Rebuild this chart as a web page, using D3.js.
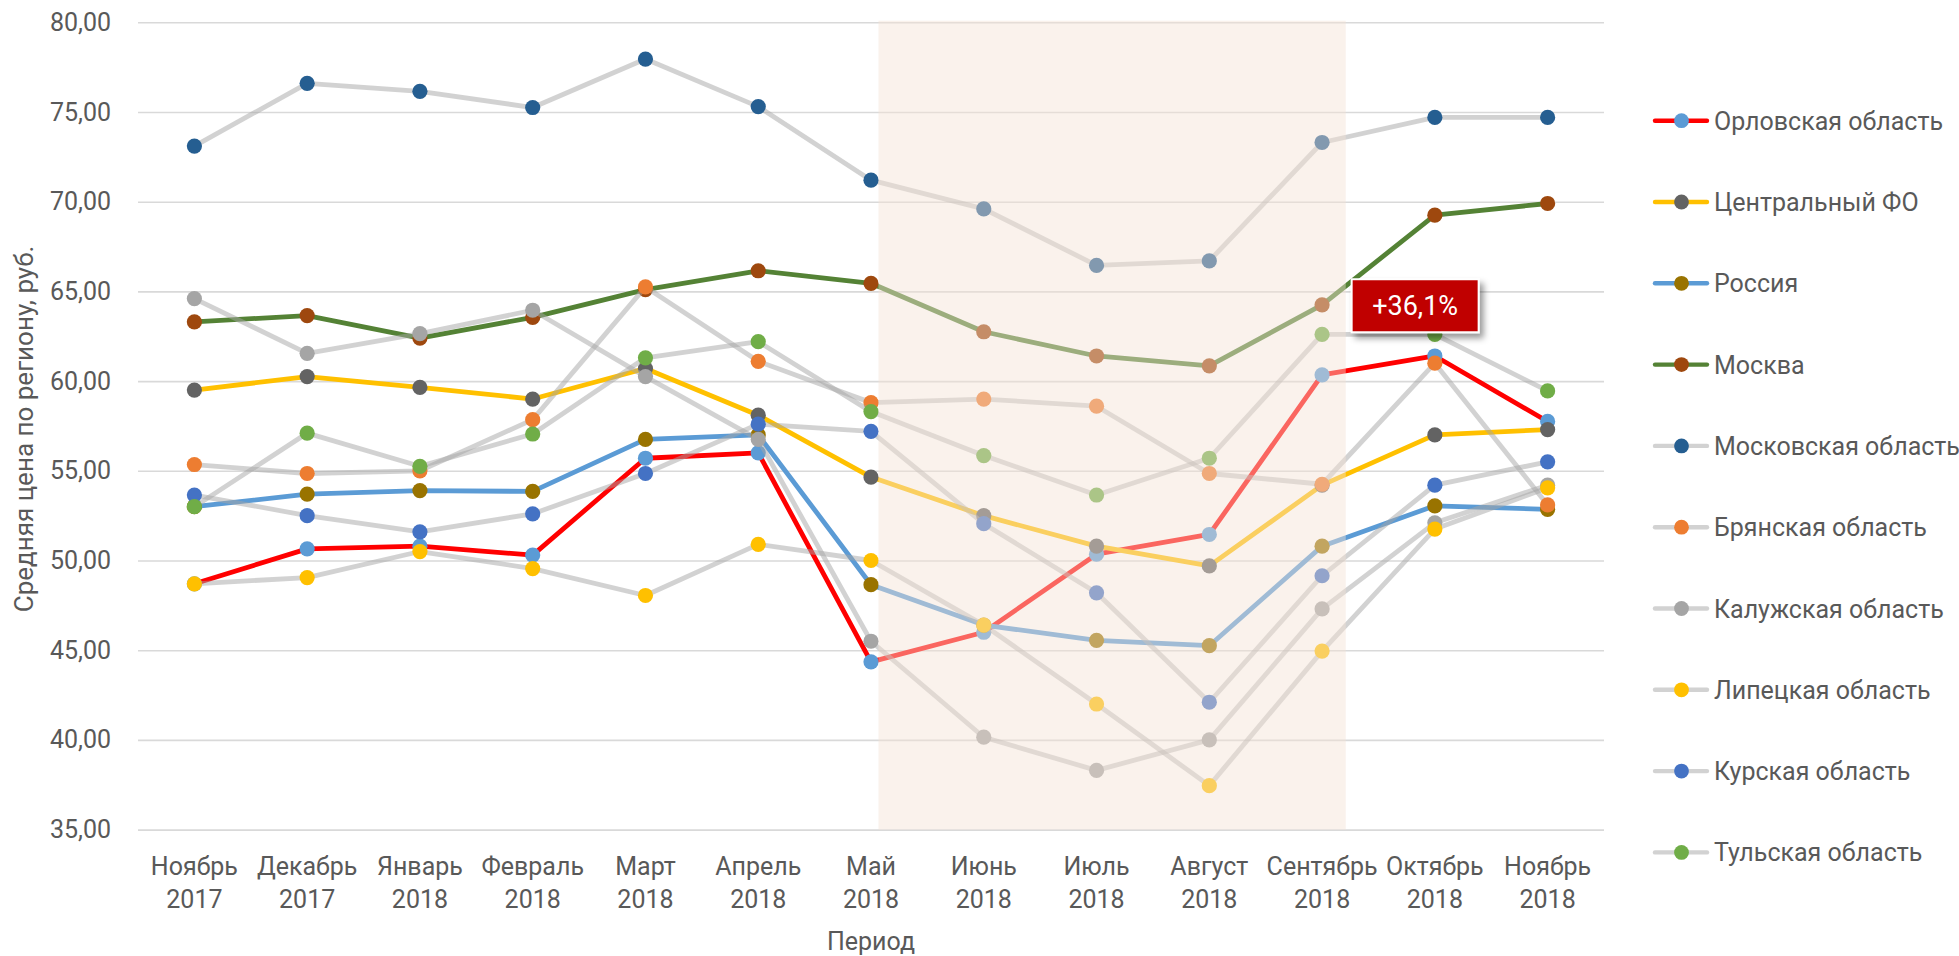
<!DOCTYPE html>
<html>
<head>
<meta charset="utf-8">
<script src="https://cdn.jsdelivr.net/npm/d3@7"></script>
<style>
  body { margin: 0; background: #fff; }
  svg { display: block; font-family: Roboto, "Open Sans", sans-serif; }
</style>
</head>
<body>
<div id="chart"></div>
<script>
const months = [
  "Ноябрь 2017", "Декабрь 2017", "Январь 2018", "Февраль 2018", "Март 2018",
  "Апрель 2018", "Май 2018", "Июнь 2018", "Июль 2018", "Август 2018",
  "Сентябрь 2018", "Октябрь 2018", "Ноябрь 2018"
]

const orel      = [48.70, 50.65, 50.80, 50.30, 55.70, 56.00, 44.35, 46.00, 50.35, 51.45, 60.35, 61.40, 57.75]
const cfo       = [59.50, 60.25, 59.65, 59.00, 60.70, 58.10, 54.65, 52.50, 50.80, 49.70, 54.20, 57.00, 57.30]
const russia    = [53.00, 53.70, 53.90, 53.85, 56.75, 57.00, 48.65, 46.40, 45.55, 45.25, 50.80, 53.05, 52.85]
const moscow    = [63.30, 63.65, 62.40, 63.55, 65.10, 66.15, 65.45, 62.75, 61.40, 60.85, 64.25, 69.25, 69.90]
const moscowObl = [73.10, 76.60, 76.15, 75.25, 77.95, 75.30, 71.20, 69.60, 66.45, 66.70, 73.30, 74.70, 74.70]
const bryansk   = [55.35, 54.85, 55.00, 57.85, 65.25, 61.10, 58.80, 59.00, 58.60, 54.85, 54.25, 61.00, 53.10]
const kaluga    = [64.60, 61.55, 62.65, 63.95, 60.25, 56.75, 45.50, 40.15, 38.30, 40.00, 47.30, 52.10, 54.20]
const lipetsk   = [48.70, 49.05, 50.50, 49.55, 48.05, 50.90, 50.00, 46.40, 42.00, 37.45, 44.95, 51.75, 54.05]
const kursk     = [53.65, 52.50, 51.60, 52.60, 54.85, 57.60, 57.20, 52.05, 48.20, 42.10, 49.15, 54.20, 55.50]
const tula      = [53.00, 57.10, 55.25, 57.05, 61.30, 62.20, 58.30, 55.85, 53.65, 55.70, 62.60, 62.60, 59.45]

const seriesNames = [
  "Орловская область", "Центральный ФО", "Россия", "Москва", "Московская область",
  "Брянская область", "Калужская область", "Липецкая область", "Курская область", "Тульская область"
]
const seriesValues = [orel, cfo, russia, moscow, moscowObl, bryansk, kaluga, lipetsk, kursk, tula]

const yTicks = [35, 40, 45, 50, 55, 60, 65, 70, 75, 80]

// highlighted period and the note on the Orel jump
const shadeFrom = "Май 2018"
const shadeTo = "Сентябрь 2018"
const noteText = "+36,1%"
const noteAt = "Октябрь 2018"
const noteValue = 64.2

// styles
const grey = "rgba(166,166,166,0.5)"
const lineColors = ["#FF0000", "#FFC000", "#5B9BD5", "#548235", grey, grey, grey, grey, grey, grey]
const legendLineColors = ["#FF0000", "#FFC000", "#5B9BD5", "#548235", "#D2D2D2", "#D2D2D2", "#D2D2D2", "#D2D2D2", "#D2D2D2", "#D2D2D2"]
const markerColors = ["#5B9BD5", "#636363", "#997300", "#9E480E", "#255E91", "#ED7D31", "#A5A5A5", "#FFC000", "#4472C4", "#70AD47"]
const textColor = "#595959"
const fontSize = 25

const W = 1959, H = 956
const plot = { left: 138, right: 1604, top: 22.3, bottom: 829.6 }

const svg = d3.select('#chart')
  .append('svg')
  .attr('width', W)
  .attr('height', H)

const defs = svg.append('defs')
const filter = defs.append('filter')
  .attr('id', 'shadow')
  .attr('x', '-20%').attr('y', '-30%')
  .attr('width', '150%').attr('height', '180%')
filter.append('feDropShadow')
  .attr('dx', 4).attr('dy', 5)
  .attr('stdDeviation', 3)
  .attr('flood-color', '#000')
  .attr('flood-opacity', 0.4)

const x = d3.scaleBand()
  .domain(months)
  .range([plot.left, plot.right])

const cx = m => x(m) + x.bandwidth() / 2

const y = d3.scaleLinear()
  .domain([35, 80])
  .range([plot.bottom, plot.top])

// Axes

const yAxis = d3.axisLeft(y)
  .tickValues(yTicks)
  .tickSize(-(plot.right - plot.left))
  .tickPadding(27)
  .tickFormat(d => d3.format('.2f')(d).replace('.', ','))

svg.append('g')
  .attr('transform', 'translate(' + plot.left + ',0)')
  .call(yAxis)
  .call(g => g.select('.domain').remove())
  .call(g => g.selectAll('line')
    .attr('stroke', '#D9D9D9')
    .attr('stroke-width', 1.6))
  .call(g => g.selectAll('text')
    .attr('fill', textColor)
    .style('font-size', fontSize + 'px')
    .style('font-family', 'Roboto'))

const xAxis = d3.axisBottom(x)
  .tickSize(0)
  .tickPadding(0)

svg.append('g')
  .attr('transform', 'translate(0,' + plot.bottom + ')')
  .call(xAxis)
  .call(g => g.select('.domain').remove())
  .call(g => g.selectAll('.tick text').each(function(d) {
    const parts = d.split(' ')
    const t = d3.select(this)
      .text(null)
      .attr('y', 0)
      .attr('dy', null)
      .attr('fill', textColor)
      .style('font-size', fontSize + 'px')
      .style('font-family', 'Roboto')
    t.append('tspan').attr('x', 0).attr('y', 45.5).text(parts[0])
    t.append('tspan').attr('x', 0).attr('y', 78.5).text(parts[1])
  }))

svg.append('text')
  .attr('x', (plot.left + plot.right) / 2)
  .attr('y', 950)
  .attr('text-anchor', 'middle')
  .attr('fill', textColor)
  .style('font-size', fontSize + 'px')
  .text('Период')

svg.append('text')
  .attr('transform', 'translate(33,' + ((plot.top + plot.bottom) / 2 + 3) + ') rotate(-90)')
  .attr('text-anchor', 'middle')
  .attr('fill', textColor)
  .style('font-size', '26px')
  .text('Средняя цена по региону, руб.')

// Lines

const line = d3.line()
  .x((d, i) => cx(months[i]))
  .y(d => y(d))

const seriesG = svg.append('g')

seriesValues.forEach((values, s) => {
  const g = seriesG.append('g')

  g.append('path')
    .datum(values)
    .attr('d', line)
    .attr('fill', 'none')
    .attr('stroke', lineColors[s])
    .attr('stroke-width', 4.8)
    .attr('stroke-linejoin', 'round')
    .attr('stroke-linecap', 'round')

  g.selectAll('circle')
    .data(values)
    .enter()
    .append('circle')
      .attr('cx', (d, i) => cx(months[i]))
      .attr('cy', d => y(d))
      .attr('r', 7.6)
      .attr('fill', markerColors[s])
})

// Shaded period, laid over the lines

const step = x.step()
svg.append('rect')
  .attr('x', cx(shadeFrom) + step * 0.066)
  .attr('y', plot.top - 1.6)
  .attr('width', cx(shadeTo) + step * 0.21 - cx(shadeFrom) - step * 0.066)
  .attr('height', plot.bottom - plot.top + 1.6)
  .attr('fill', 'rgb(243,226,213)')
  .attr('fill-opacity', 0.45)

// Note

const noteW = 127, noteH = 53
const noteX = cx(noteAt) - 19.7
const noteY = y(noteValue)

const note = svg.append('g')
  .attr('transform', 'translate(' + noteX + ',' + noteY + ')')

note.append('rect')
  .attr('x', -noteW / 2)
  .attr('y', -noteH / 2)
  .attr('width', noteW)
  .attr('height', noteH)
  .attr('fill', '#C00000')
  .attr('stroke', '#fff')
  .attr('stroke-width', 2)
  .attr('filter', 'url(#shadow)')

note.append('text')
  .attr('text-anchor', 'middle')
  .attr('dy', '0.36em')
  .attr('fill', '#fff')
  .style('font-size', '27px')
  .text(noteText)

// Legend

const legend = svg.append('g')
  .attr('transform', 'translate(1653,120.7)')

const rows = legend.selectAll('g')
  .data(seriesNames)
  .enter()
  .append('g')
    .attr('transform', (d, i) => 'translate(0,' + (i * 81.3) + ')')

rows.append('line')
  .attr('x1', 2).attr('x2', 54)
  .attr('y1', 0).attr('y2', 0)
  .attr('stroke', (d, i) => legendLineColors[i])
  .attr('stroke-width', 4.4)
  .attr('stroke-linecap', 'round')

rows.append('circle')
  .attr('cx', 28.5)
  .attr('cy', 0)
  .attr('r', 7.4)
  .attr('fill', (d, i) => markerColors[i])

rows.append('text')
  .attr('x', 61)
  .attr('dy', '0.36em')
  .attr('fill', textColor)
  .style('font-size', fontSize + 'px')
  .text(d => d)
</script>
</body>
</html>
